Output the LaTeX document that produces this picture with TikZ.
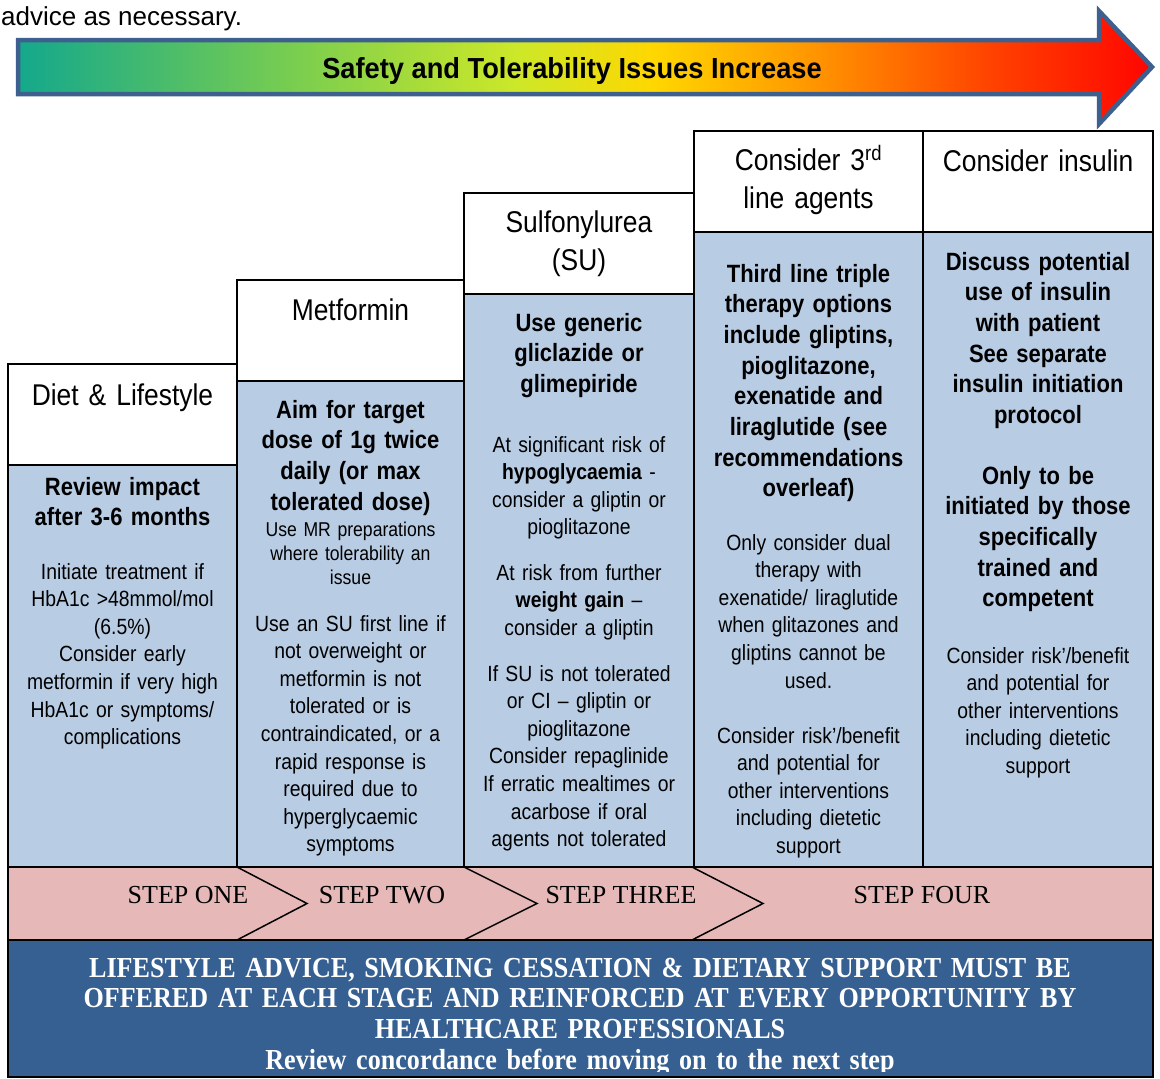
\documentclass[tikz,border=0pt]{standalone}
\usepackage{fontspec}
\setmainfont{Liberation Sans}[FakeStretch=0.88]
\newfontfamily\plainfont{Liberation Sans}
\newfontfamily\arrowfont{Liberation Sans}[FakeStretch=0.94]
\newfontfamily\stepfont{Liberation Serif}
\newfontfamily\notefont{Liberation Serif}[FakeStretch=0.9]
\usetikzlibrary{positioning}

\definecolor{bodyblue}{RGB}{184,204,228}
\definecolor{steppink}{RGB}{230,185,184}
\definecolor{noteblue}{RGB}{54,96,146}
\definecolor{arrowblue}{RGB}{62,96,142}
\definecolor{sg0}{RGB}{20,168,140}
\definecolor{sg1}{RGB}{120,205,80}
\definecolor{sg2}{RGB}{205,232,40}
\definecolor{sg3}{RGB}{255,215,0}
\definecolor{sg4}{RGB}{255,150,0}
\definecolor{sg5}{RGB}{255,65,0}
\definecolor{sg6}{RGB}{255,5,0}
\pgfdeclarehorizontalshading{safetyshade}{100bp}{color(0bp)=(sg0); color(25bp)=(sg0);
  color(37bp)=(sg1); color(47bp)=(sg2); color(53bp)=(sg3); color(60bp)=(sg4);
  color(68bp)=(sg5); color(75bp)=(sg6); color(100bp)=(sg6)}

\tikzset{
  colbox/.style={draw, line width=1.5pt},
  txtbase/.style={text width=226pt, align=center, inner sep=0pt, anchor=base},
  headtxt/.style={txtbase, font=\fontsize{30}{38}\selectfont},
  boldtxt/.style={txtbase, font=\fontsize{25}{30.7}\selectfont\bfseries},
  bodytxt/.style={txtbase, font=\fontsize{22}{27.6}\selectfont},
  smalltxt/.style={txtbase, font=\fontsize{20}{24}\selectfont},
  steptxt/.style={inner sep=0pt, anchor=base, font=\stepfont\fontsize{26}{30}\selectfont},
}

\begin{document}
\begin{tikzpicture}[x=1pt, y=-1pt]
  \useasboundingbox (0,0) rectangle (1160,1079);

  % arrow across the top
  \shadedraw[shading=safetyshade, draw=arrowblue, line width=4.5pt, line join=miter]
    (18,40) -- (1099,40) -- (1099,11) -- (1152,67) -- (1099,124) -- (1099,94) -- (18,94) -- cycle;
  \node [anchor=base, inner sep=0pt, font=\arrowfont\bfseries\fontsize{29}{34}\selectfont]
    (safety) at (572,78) {Safety and Tolerability Issues Increase};
  \node [anchor=base west, inner sep=0pt, font=\plainfont\fontsize{26}{31}\selectfont]
    (advice) at (1,25) {advice as necessary.};

  % the five columns
  \foreach \xa/\xb/\yt in {8/237/364, 237/464/280, 464/694/193, 694/923/131, 923/1153/131} {
    \filldraw [colbox, fill=white] (\xa,\yt) rectangle (\xb,\yt+101);
    \filldraw [colbox, fill=bodyblue] (\xa,\yt+101) rectangle (\xb,867);
  }

  \node [headtxt] (h1) at (122.5,405) {Diet \& Lifestyle};
  \node [headtxt] (h2) at (350.5,320) {Metformin};
  \node [headtxt] (h3) at (579,232) {Sulfonylurea\\(SU)};
  \node [headtxt] (h4) at (808.5,170) {Consider 3\textsuperscript{rd}\\line agents};
  \node [headtxt] (h5) at (1038,171) {Consider insulin};

  \node [boldtxt] (b1a) at (122.5,495) {Review impact\\after 3-6 months};
  \node [bodytxt] (b1b) at (122.5,579) {Initiate treatment if\\HbA1c >48mmol/mol\\(6.5\%)\\Consider early\\metformin if very high\\HbA1c or symptoms/\\complications};

  \node [boldtxt] (b2a) at (350.5,418) {Aim for target\\dose of 1g twice\\daily (or max\\tolerated dose)};
  \node [smalltxt] (b2b) at (350.5,536) {Use MR preparations\\where tolerability an\\issue};
  \node [bodytxt] (b2c) at (350.5,631) {Use an SU first line if\\not overweight or\\metformin is not\\tolerated or is\\contraindicated, or a\\rapid response is\\required due to\\hyperglycaemic\\symptoms};

  \node [boldtxt] (b3a) at (579,331) {Use generic\\gliclazide or\\glimepiride};
  \node [bodytxt] (b3b) at (579,452) {At significant risk of\\\textbf{hypoglycaemia} -\\consider a gliptin or\\pioglitazone};
  \node [bodytxt] (b3c) at (579,580) {At risk from further\\\textbf{weight gain} –\\consider a gliptin};
  \node [bodytxt] (b3d) at (579,681) {If SU is not tolerated\\or CI – gliptin or\\pioglitazone\\Consider repaglinide\\If erratic mealtimes or\\acarbose if oral\\agents not tolerated};

  \node [boldtxt] (b4a) at (808.5,282) {Third line triple\\therapy options\\include gliptins,\\pioglitazone,\\exenatide and\\liraglutide (see\\recommendations\\overleaf)};
  \node [bodytxt] (b4b) at (808.5,550) {Only consider dual\\therapy with\\exenatide/ liraglutide\\when glitazones and\\gliptins cannot be\\used.};
  \node [bodytxt] (b4c) at (808.5,743) {Consider risk'/benefit\\and potential for\\other interventions\\including dietetic\\support};

  \node [boldtxt] (b5a) at (1038,270) {Discuss potential\\use of insulin\\with patient\\See separate\\insulin initiation\\protocol};
  \node [boldtxt] (b5b) at (1038,484) {Only to be\\initiated by those\\specifically\\trained and\\competent};
  \node [bodytxt] (b5c) at (1038,663) {Consider risk'/benefit\\and potential for\\other interventions\\including dietetic\\support};

  % step band
  \filldraw [colbox, fill=steppink] (8,867) rectangle (1153,940);
  \foreach \xa/\xt in {237/307, 464/537, 692/763}
    \draw [line width=1.5pt] (\xa,867) -- (\xt,903.5) -- (\xa,940);
  \node [steptxt] (s1) at (188,903) {STEP ONE};
  \node [steptxt] (s2) at (382,903) {STEP TWO};
  \node [steptxt] (s3) at (621,903) {STEP THREE};
  \node [steptxt] (s4) at (922,903) {STEP FOUR};

  % note at the bottom
  \filldraw [colbox, fill=noteblue] (8,940) rectangle (1153,1077);
  \begin{scope}
    \clip (8,940) rectangle (1153,1071);
    \node [anchor=base, inner sep=0pt, text width=1100pt, align=center, text=white,
      font=\notefont\bfseries\fontsize{29}{30.7}\selectfont] (note) at (580,977)
      {LIFESTYLE ADVICE, SMOKING CESSATION \& DIETARY SUPPORT MUST BE\\
       OFFERED AT EACH STAGE AND REINFORCED AT EVERY OPPORTUNITY BY\\
       HEALTHCARE PROFESSIONALS\\
       Review concordance before moving on to the next step};
  \end{scope}
\end{tikzpicture}
\end{document}
